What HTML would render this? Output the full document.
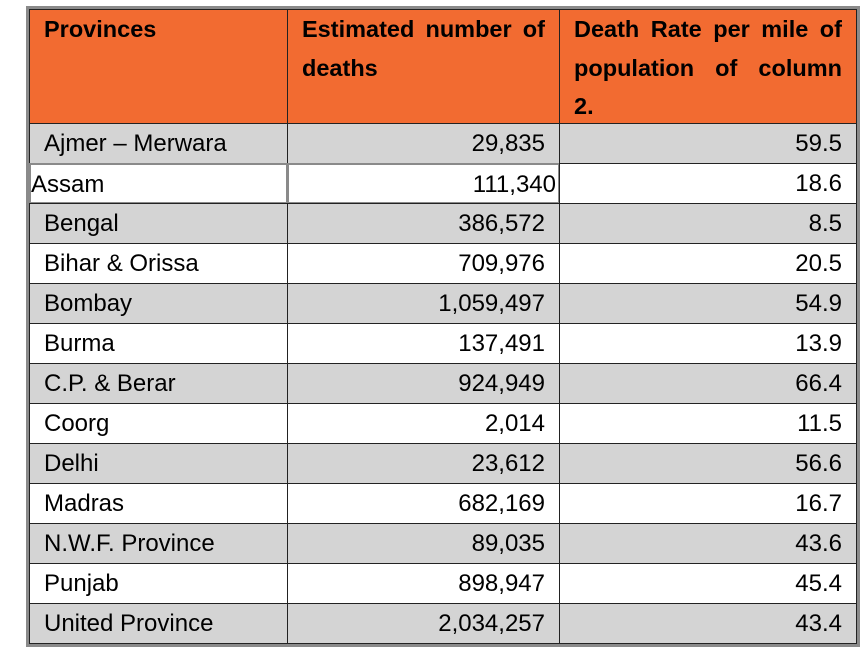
<!DOCTYPE html>
<html><head><style>
body{margin:0;width:866px;height:650px;background:#fff;position:relative;overflow:hidden;font-family:"Liberation Sans",Arial,sans-serif;}
.frame{position:absolute;left:26px;top:6px;width:834px;height:641px;border:3px solid #8a8a8a;box-sizing:border-box;}
.c{position:absolute;box-sizing:border-box;border:1.5px solid #222;font-size:24px;color:#000;line-height:40px;white-space:nowrap;}
.h{background:#f26b31;font-weight:bold;font-size:23.5px;line-height:38.5px;padding:0 14px 0 14px;color:#000}
.h div{text-align:justify;text-align-last:justify}
.h div.last{text-align-last:left}
.g{background:#d4d4d4}
.w{background:#fff}
.l{padding-left:14px}
.r{text-align:right;padding-right:14px}
</style></head><body>
<div class="frame"></div>
<div class="c h" style="left:29px;top:9px;width:259px;height:115px;"><div class="last">Provinces</div></div>
<div class="c h" style="left:287px;top:9px;width:273px;height:115px;"><div>Estimated number of</div><div class="last">deaths</div></div>
<div class="c h" style="left:559px;top:9px;width:298px;height:115px;"><div>Death Rate per mile of</div><div>population of column</div><div class="last">2.</div></div>
<div id="rows"></div>
<script>
const d=[["Ajmer – Merwara","29,835","59.5"],["Assam","111,340","18.6"],["Bengal","386,572","8.5"],["Bihar & Orissa","709,976","20.5"],["Bombay","1,059,497","54.9"],["Burma","137,491","13.9"],["C.P. & Berar","924,949","66.4"],["Coorg","2,014","11.5"],["Delhi","23,612","56.6"],["Madras","682,169","16.7"],["N.W.F. Province","89,035","43.6"],["Punjab","898,947","45.4"],["United Province","2,034,257","43.4"]];
let h="";
d.forEach((r,i)=>{const y=123+i*40;const cl=i%2==0?"g":"w";
if(i==1){
h+=`<div class="c w" style="left:29px;top:${y}px;width:259px;height:41px;border-color:#8a8a8a;border-width:2px;padding-left:0">${r[0]}</div>`;
h+=`<div class="c w r" style="left:287px;top:${y}px;width:273px;height:41px;border-color:#8a8a8a;border-width:2px;padding-right:2px">${r[1]}</div>`;
}else{
h+=`<div class="c ${cl} l" style="left:29px;top:${y}px;width:259px;height:41px">${r[0].replace("&","&amp;")}</div>`;
h+=`<div class="c ${cl} r" style="left:287px;top:${y}px;width:273px;height:41px">${r[1]}</div>`;}
h+=`<div class="c ${cl} r" style="left:559px;top:${y}px;width:298px;height:41px">${r[2]}</div>`;});
document.getElementById("rows").innerHTML=h;
</script>
</body></html>
